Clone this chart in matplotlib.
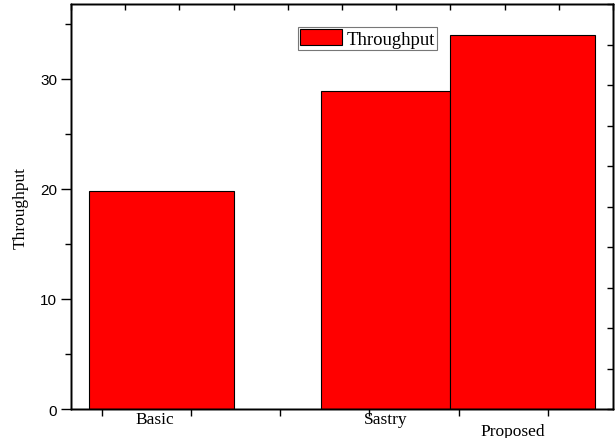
import matplotlib
matplotlib.use("Agg")
import matplotlib.pyplot as plt
import numpy as np

# data
methods = ["Basic", "Sastry", "Proposed"]
throughput = [19.8, 28.9, 34.0]

# layout (axis units: 1 unit = width of the Basic bar)
bar_left = [0.124, 1.724, 2.614]
bar_width = [1.0, 0.89, 1.0]
label_x = [0.58, 2.17, 3.05]
label_y = [-0.005, -0.005, -0.035]
XMAX = 3.738
YMAX = 36.8

plt.rcParams["font.family"] = ["Liberation Serif", "DejaVu Serif"]

fig = plt.figure(figsize=(6.16, 4.39), dpi=100)
ax = fig.add_axes([0.1153, 0.066, 0.8797, 0.9226])

ax.bar(bar_left, throughput, width=bar_width, align="edge",
       color="#ff0000", edgecolor="black", linewidth=0.8, label="Throughput")

ax.set_xlim(0, XMAX)
ax.set_ylim(0, YMAX)

# left axis
ax.set_yticks([0, 10, 20, 30])
ax.set_yticks(np.arange(5, 36, 10), minor=True)
ax.tick_params(axis="y", which="major", direction="out", length=7, width=1,
               labelsize=11, labelfontfamily="Liberation Sans", pad=3)
ax.tick_params(axis="y", which="minor", direction="out", length=4, width=1)
ax.set_ylabel("Throughput", fontsize=12.5, labelpad=8)

# bottom axis: tick marks only, labels drawn as text
ax.set_xticks([(p - 71) / 145 for p in [102, 191, 280, 369, 459, 548]])
ax.set_xticklabels([])
ax.tick_params(axis="x", direction="out", length=5, width=1)
for name, x, y in zip(methods, label_x, label_y):
    ax.text(x, y, name, transform=ax.get_xaxis_transform(), ha="center",
            va="top", fontsize=12.5)

# opposite axes with their own 0-10 scales
axr = ax.twinx()
axr.set_ylim(0, 10)
axr.set_yticks(np.arange(0, 11, 1))
axr.set_yticklabels([])
axr.tick_params(axis="y", direction="in", length=4, width=1)

axt = ax.twiny()
axt.set_xlim(0, 10)
axt.set_xticks(np.arange(0, 11, 1))
axt.set_xticklabels([])
axt.tick_params(axis="x", direction="in", length=4, width=1)

for a in (ax, axr, axt):
    for s in a.spines.values():
        s.set_linewidth(1.0)

leg = ax.legend(loc="upper left", bbox_to_anchor=(0.419, 0.943), fontsize=13.5,
                frameon=True, fancybox=False, edgecolor="#555555",
                handlelength=2.2, handleheight=0.9, borderpad=0.12,
                handletextpad=0.25, borderaxespad=0)
leg.get_frame().set_linewidth(0.8)

fig.savefig("out.png", dpi=100)
